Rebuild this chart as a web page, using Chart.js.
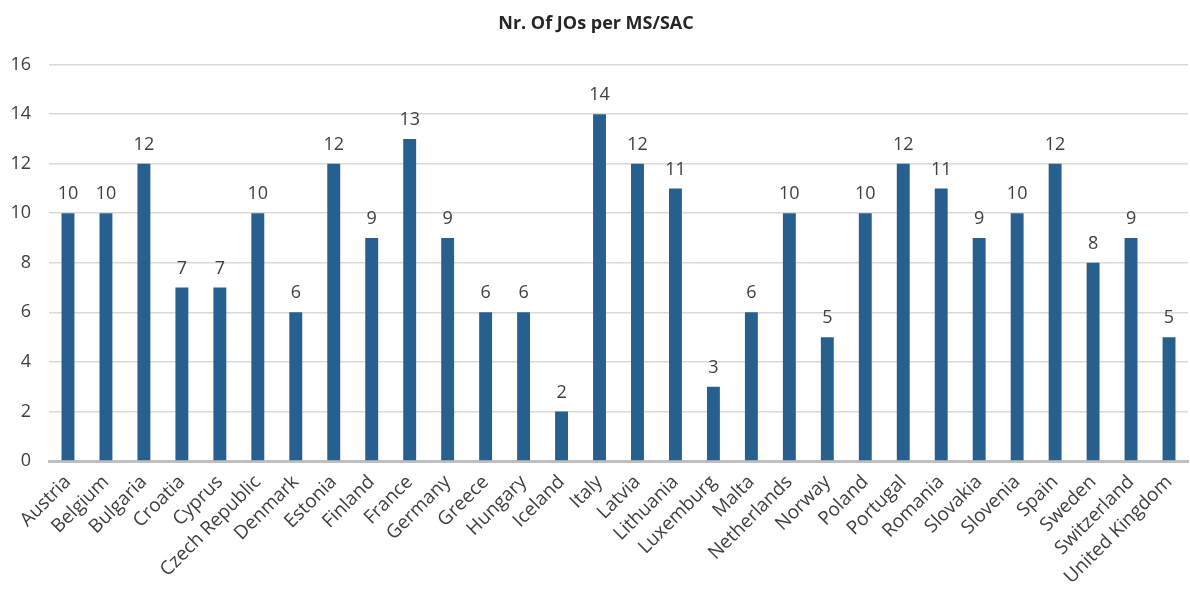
<!DOCTYPE html>
<html lang="en">
<head>
  <meta charset="UTF-8">
  <title>Nr. Of JOs per MS/SAC</title>
  <script src="https://cdn.jsdelivr.net/npm/chart.js"></script>
  <style>
    html, body { margin: 0; padding: 0; background: #fff; }
    .chart-container { width: 1190px; height: 594px; }
  </style>
</head>
<body>
  <div class="chart-container">
    <canvas id="joChart"></canvas>
  </div>
  <script>
    const countries = ['Austria', 'Belgium', 'Bulgaria', 'Croatia', 'Cyprus', 'Czech Republic', 'Denmark',
      'Estonia', 'Finland', 'France', 'Germany', 'Greece', 'Hungary', 'Iceland', 'Italy', 'Latvia',
      'Lithuania', 'Luxemburg', 'Malta', 'Netherlands', 'Norway', 'Poland', 'Portugal', 'Romania',
      'Slovakia', 'Slovenia', 'Spain', 'Sweden', 'Switzerland', 'United Kingdom'];
    const joCounts = [10, 10, 12, 7, 7, 10, 6, 12, 9, 13, 9, 6, 6, 2, 14, 12, 11, 3, 6, 10, 5, 10, 12, 11,
      9, 10, 12, 8, 9, 5];
    const yTicks = [0, 2, 4, 6, 8, 10, 12, 14, 16];

    const font = "'Open Sans', 'DejaVu Sans', sans-serif";

    // etiquettes de valeur au-dessus des barres
    const valueLabels = {
      id: 'valueLabels',
      afterDatasetsDraw(chart) {
        const ctx = chart.ctx;
        ctx.save();
        ctx.font = '18px ' + font;
        ctx.fillStyle = '#404040';
        ctx.textAlign = 'center';
        ctx.textBaseline = 'bottom';
        chart.getDatasetMeta(0).data.forEach((bar, i) => {
          ctx.fillText(joCounts[i], bar.x, bar.y - 10);
        });
        ctx.restore();
      }
    };

    new Chart(document.getElementById('joChart'), {
      type: 'bar',
      data: {
        labels: countries,
        datasets: [{
          data: joCounts,
          backgroundColor: '#27608f',
          barPercentage: 0.34,
          categoryPercentage: 1
        }]
      },
      options: {
        responsive: true,
        maintainAspectRatio: false,
        animation: false,
        layout: { padding: { left: 4, right: 2, top: 4, bottom: 0 } },
        plugins: {
          legend: { display: false },
          tooltip: { enabled: false },
          title: {
            display: true,
            text: 'Nr. Of JOs per MS/SAC',
            color: '#262626',
            font: { family: font, size: 18, weight: 'bold' },
            padding: { top: 9, bottom: 30 }
          }
        },
        scales: {
          x: {
            grid: { display: false },
            border: { color: '#bfbfbf', width: 3 },
            afterFit(scale) { scale.height = 133; },
            ticks: {
              color: '#404040',
              font: { family: font, size: 19 },
              maxRotation: 45,
              minRotation: 45,
              autoSkip: false,
              padding: 2
            }
          },
          y: {
            min: 0,
            max: 16,
            afterBuildTicks(scale) {
              scale.ticks = yTicks.map(v => ({ value: v }));
            },
            afterFit(scale) { scale.width = 45; },
            grid: { color: '#d9d9d9', lineWidth: 1.5, drawTicks: false },
            border: { display: false },
            ticks: {
              color: '#404040',
              font: { family: font, size: 18 },
              padding: 18
            }
          }
        }
      },
      plugins: [valueLabels]
    });
  </script>
</body>
</html>
